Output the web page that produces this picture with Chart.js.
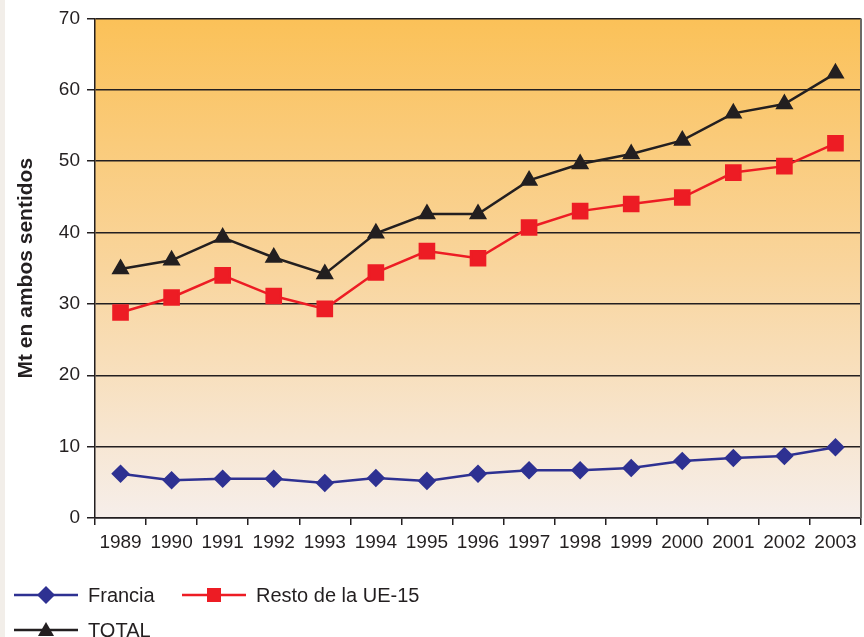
<!DOCTYPE html>
<html>
<head>
<meta charset="utf-8">
<script src="https://cdn.jsdelivr.net/npm/chart.js@4"></script>
<style>
    html, body { margin: 0; padding: 0; background: #fff; }
    #wrap { position: relative; width: 864px; height: 637px; overflow: hidden; }
    #tira { position: absolute; left: 0; top: 0; width: 5px; height: 637px; background: #f2eee9; }
    #grafico { position: absolute; left: 0; top: 0; }
    #leyenda { position: absolute; left: 14px; top: 580px; display: grid; grid-template-columns: 168px 260px; row-gap: 5px;
               font-family: "Liberation Sans", Arial, sans-serif; font-size: 20px; color: #231f20; }
    .item { display: flex; align-items: center; height: 30px; white-space: nowrap; }
    .item svg { margin-right: 10px; flex: none; }
</style>
</head>
<body>
<div id="wrap">
    <div id="tira"></div>
    <canvas id="grafico" width="864" height="637"></canvas>
    <div id="leyenda"></div>
</div>
<script>
// Datos (Mt en ambos sentidos)
const anios = ['1989', '1990', '1991', '1992', '1993', '1994', '1995', '1996', '1997', '1998', '1999', '2000', '2001', '2002', '2003'];
const francia = [6.2, 5.3, 5.5, 5.5, 4.9, 5.6, 5.2, 6.2, 6.7, 6.7, 7.0, 8.0, 8.4, 8.7, 9.9];
const restoUE15 = [28.8, 30.9, 34.0, 31.1, 29.3, 34.4, 37.4, 36.4, 40.7, 43.0, 44.0, 44.9, 48.4, 49.3, 52.5];
const total = [34.9, 36.1, 39.3, 36.5, 34.2, 39.9, 42.6, 42.6, 47.3, 49.6, 51.0, 52.9, 56.7, 58.0, 62.3];

const fuente = '"Liberation Sans", Arial, sans-serif';

// fondo degradado del área de trazado + borde derecho
const fondoPlugin = {
    id: 'fondo',
    beforeDraw(chart) {
        const { ctx, chartArea: a } = chart;
        const g = ctx.createLinearGradient(0, a.top, 0, a.bottom);
        g.addColorStop(0, '#fbc158');
        g.addColorStop(0.5, '#f9d59d');
        g.addColorStop(1, '#f6eeea');
        ctx.save();
        ctx.fillStyle = g;
        ctx.fillRect(a.left, a.top, a.right - a.left, a.bottom - a.top);
        ctx.restore();
    },
    afterDraw(chart) {
        const { ctx, chartArea: a } = chart;
        ctx.save();
        ctx.strokeStyle = '#6d6a66';
        ctx.lineWidth = 2;
        ctx.beginPath();
        ctx.moveTo(a.right, a.top);
        ctx.lineTo(a.right, a.bottom);
        ctx.stroke();
        ctx.restore();
    }
};

const chart = new Chart(document.getElementById('grafico'), {
    type: 'line',
    data: {
        labels: anios,
        datasets: [
            { label: 'Francia', data: francia, borderColor: '#2e3192', backgroundColor: '#2e3192', borderWidth: 2.5,
              pointStyle: 'rectRot', pointRadius: 7.5, pointHoverRadius: 7.5 },
            { label: 'Resto de la UE-15', data: restoUE15, borderColor: '#ed1c24', backgroundColor: '#ed1c24', borderWidth: 2.5,
              pointStyle: 'rect', pointRadius: 10, pointHoverRadius: 10 },
            { label: 'TOTAL', data: total, borderColor: '#231f20', backgroundColor: '#231f20', borderWidth: 2.5,
              pointStyle: 'triangle', pointRadius: 8, pointHoverRadius: 8 }
        ]
    },
    options: {
        responsive: false,
        animation: false,
        layout: { autoPadding: false, padding: { left: 8, top: 18, right: 3, bottom: 0 } },
        plugins: {
            legend: { display: false },
            tooltip: { enabled: false }
        },
        scales: {
            x: {
                offset: true,
                grid: { offset: true, drawOnChartArea: false, drawTicks: true, tickLength: 7, color: '#231f20', lineWidth: 1.5 },
                border: { color: '#231f20', width: 1.5 },
                ticks: { color: '#231f20', font: { family: fuente, size: 19 }, padding: 6, maxRotation: 0, autoSkip: false },
                afterFit(scale) {
                    scale.height = 119;
                    scale.paddingLeft = 0;
                    scale.paddingRight = 0;
                }
            },
            y: {
                min: 0,
                max: 70,
                ticks: { stepSize: 10, color: '#231f20', font: { family: fuente, size: 19 }, padding: 7 },
                grid: { color: '#231f20', lineWidth: 1.5, tickLength: 8 },
                border: { color: '#231f20', width: 1.5 },
                title: { display: true, text: 'Mt en ambos sentidos', color: '#231f20',
                         font: { family: fuente, size: 21, weight: 'bold' }, padding: { top: 6, bottom: 0 } },
                afterFit(scale) { scale.width = 87; }
            }
        }
    },
    plugins: [fondoPlugin]
});

// leyenda con línea y marcador
function marcadorSVG(ds) {
    const c = ds.borderColor;
    let m = '';
    if (ds.pointStyle === 'rectRot') m = `<polygon points="32,6 41,15 32,24 23,15" fill="${c}"/>`;
    if (ds.pointStyle === 'rect') m = `<rect x="25" y="8" width="14" height="14" fill="${c}"/>`;
    if (ds.pointStyle === 'triangle') m = `<polygon points="32,7 40,21 24,21" fill="${c}"/>`;
    return `<svg width="64" height="30"><line x1="0" y1="15" x2="64" y2="15" stroke="${c}" stroke-width="2.5"/>${m}</svg>`;
}

const leyenda = document.getElementById('leyenda');
leyenda.innerHTML = chart.data.datasets.map(ds =>
    `<div class="item">${marcadorSVG(ds)}<span>${ds.label}</span></div>`
).join('');
</script>
</body>
</html>
